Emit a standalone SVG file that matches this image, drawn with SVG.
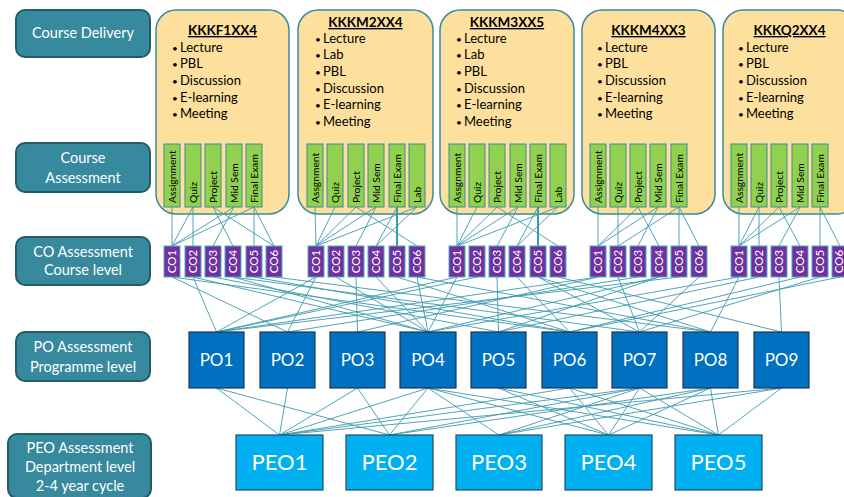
<svg xmlns="http://www.w3.org/2000/svg" width="844" height="497" viewBox="0 0 844 497">
<style>
text{font-family:Lato,"Open Sans","Liberation Sans",sans-serif}
.lbl rect{fill:#37899E;stroke:#235B69;stroke-width:2}
.lbl text{fill:#fff;font-size:14.5px;text-anchor:middle}
.course rect{fill:#FDE09D;stroke:#3A8A9E;stroke-width:1.5}
.title{font-size:13.5px;font-weight:bold;text-anchor:middle;text-decoration:underline;fill:#000}
.item{font-size:13px;fill:#000}
.bul{font-size:10px}
.bar rect{fill:#92D050;stroke:#3A8A9E;stroke-width:1}
.bar text{font-size:10.3px;fill:#000}
.co rect{fill:#7030A0;stroke:#4BACC6;stroke-width:1}
.co text{font-size:11.5px;fill:#fff;text-anchor:middle}
.po rect{fill:#0070C0;stroke:#1E3452;stroke-width:1.2}
.po text{font-size:17px;fill:#fff;text-anchor:middle}
.peo rect{fill:#00B0F0;stroke:#244A62;stroke-width:1.2}
.peo text{font-size:22px;fill:#fff;text-anchor:middle}
#connectors line{stroke:#3C9AAF;stroke-width:0.9}
#connectors line.thick{stroke-width:2}
</style>

<!-- left labels -->
<g id="lbl-delivery" class="lbl"><rect x="16" y="10" width="134" height="47" rx="9"/><text x="83" y="38">Course Delivery</text></g>
<g id="lbl-assessment" class="lbl"><rect x="16" y="143" width="134" height="49" rx="9"/><text x="83" y="163">Course</text><text x="83" y="183">Assessment</text></g>
<g id="lbl-co" class="lbl"><rect x="16" y="237" width="134" height="48" rx="9"/><text x="83" y="257">CO Assessment</text><text x="83" y="275">Course level</text></g>
<g id="lbl-po" class="lbl"><rect x="16" y="332" width="134" height="49" rx="9"/><text x="83" y="352">PO Assessment</text><text x="83" y="372">Programme level</text></g>
<g id="lbl-peo" class="lbl"><rect x="8" y="434" width="143" height="64" rx="9"/><text x="80" y="453">PEO Assessment</text><text x="80" y="472">Department level</text><text x="80" y="491">2-4 year cycle</text></g>

<!-- course boxes -->
<g id="course1" class="course"><rect x="156" y="10" width="133" height="204" rx="20"/>
<text class="title" x="222.5" y="35">KKKF1XX4</text>
<text class="item" x="172" y="51.5"><tspan class="bul">•</tspan><tspan x="180">Lecture</tspan></text>
<text class="item" x="172" y="68"><tspan class="bul">•</tspan><tspan x="180">PBL</tspan></text>
<text class="item" x="172" y="85"><tspan class="bul">•</tspan><tspan x="180">Discussion</tspan></text>
<text class="item" x="172" y="101.5"><tspan class="bul">•</tspan><tspan x="180">E-learning</tspan></text>
<text class="item" x="172" y="118"><tspan class="bul">•</tspan><tspan x="180">Meeting</tspan></text>
</g>
<g id="course2" class="course"><rect x="298" y="10" width="135" height="204" rx="20"/>
<text class="title" x="365.5" y="27">KKKM2XX4</text>
<text class="item" x="315" y="42.5"><tspan class="bul">•</tspan><tspan x="323">Lecture</tspan></text>
<text class="item" x="315" y="59"><tspan class="bul">•</tspan><tspan x="323">Lab</tspan></text>
<text class="item" x="315" y="76"><tspan class="bul">•</tspan><tspan x="323">PBL</tspan></text>
<text class="item" x="315" y="92.5"><tspan class="bul">•</tspan><tspan x="323">Discussion</tspan></text>
<text class="item" x="315" y="109"><tspan class="bul">•</tspan><tspan x="323">E-learning</tspan></text>
<text class="item" x="315" y="125.5"><tspan class="bul">•</tspan><tspan x="323">Meeting</tspan></text>
</g>
<g id="course3" class="course"><rect x="440" y="10" width="134" height="204" rx="20"/>
<text class="title" x="507" y="27">KKKM3XX5</text>
<text class="item" x="456" y="42.5"><tspan class="bul">•</tspan><tspan x="464">Lecture</tspan></text>
<text class="item" x="456" y="59"><tspan class="bul">•</tspan><tspan x="464">Lab</tspan></text>
<text class="item" x="456" y="76"><tspan class="bul">•</tspan><tspan x="464">PBL</tspan></text>
<text class="item" x="456" y="92.5"><tspan class="bul">•</tspan><tspan x="464">Discussion</tspan></text>
<text class="item" x="456" y="109"><tspan class="bul">•</tspan><tspan x="464">E-learning</tspan></text>
<text class="item" x="456" y="125.5"><tspan class="bul">•</tspan><tspan x="464">Meeting</tspan></text>
</g>
<g id="course4" class="course"><rect x="582" y="10" width="133" height="204" rx="20"/>
<text class="title" x="648.5" y="35">KKKM4XX3</text>
<text class="item" x="597" y="51.5"><tspan class="bul">•</tspan><tspan x="605">Lecture</tspan></text>
<text class="item" x="597" y="68"><tspan class="bul">•</tspan><tspan x="605">PBL</tspan></text>
<text class="item" x="597" y="85"><tspan class="bul">•</tspan><tspan x="605">Discussion</tspan></text>
<text class="item" x="597" y="101.5"><tspan class="bul">•</tspan><tspan x="605">E-learning</tspan></text>
<text class="item" x="597" y="118"><tspan class="bul">•</tspan><tspan x="605">Meeting</tspan></text>
</g>
<g id="course5" class="course"><rect x="723" y="10" width="134" height="204" rx="20"/>
<text class="title" x="789.5" y="35">KKKQ2XX4</text>
<text class="item" x="738" y="51.5"><tspan class="bul">•</tspan><tspan x="746">Lecture</tspan></text>
<text class="item" x="738" y="68"><tspan class="bul">•</tspan><tspan x="746">PBL</tspan></text>
<text class="item" x="738" y="85"><tspan class="bul">•</tspan><tspan x="746">Discussion</tspan></text>
<text class="item" x="738" y="101.5"><tspan class="bul">•</tspan><tspan x="746">E-learning</tspan></text>
<text class="item" x="738" y="118"><tspan class="bul">•</tspan><tspan x="746">Meeting</tspan></text>
</g>

<!-- connectors -->
<g id="connectors">
<line x1="172" y1="207" x2="172" y2="246"/>
<line x1="193" y1="207" x2="172" y2="246"/>
<line x1="193" y1="207" x2="193" y2="246"/>
<line x1="213" y1="207" x2="233" y2="246"/>
<line x1="213" y1="207" x2="274" y2="246"/>
<line x1="234" y1="207" x2="172" y2="246"/>
<line x1="234" y1="207" x2="213" y2="246"/>
<line x1="254" y1="207" x2="172" y2="246"/>
<line x1="254" y1="207" x2="254" y2="246"/>
<line x1="254" y1="207" x2="274" y2="246"/>
<line x1="315" y1="207" x2="316" y2="246"/>
<line x1="335" y1="207" x2="316" y2="246"/>
<line x1="356" y1="207" x2="316" y2="246"/>
<line x1="356" y1="207" x2="417" y2="246"/>
<line x1="376" y1="207" x2="316" y2="246"/>
<line x1="376" y1="207" x2="356" y2="246"/>
<line x1="397" y1="207" x2="397" y2="246" class="thick"/>
<line x1="397" y1="207" x2="376" y2="246"/>
<line x1="417" y1="207" x2="376" y2="246"/>
<line x1="417" y1="207" x2="316" y2="246"/>
<line x1="457" y1="207" x2="457" y2="246"/>
<line x1="477" y1="207" x2="457" y2="246"/>
<line x1="497" y1="207" x2="457" y2="246"/>
<line x1="497" y1="207" x2="558" y2="246"/>
<line x1="518" y1="207" x2="457" y2="246"/>
<line x1="518" y1="207" x2="497" y2="246"/>
<line x1="538" y1="207" x2="538" y2="246" class="thick"/>
<line x1="538" y1="207" x2="517" y2="246"/>
<line x1="558" y1="207" x2="517" y2="246"/>
<line x1="558" y1="207" x2="457" y2="246"/>
<line x1="598" y1="207" x2="598" y2="246"/>
<line x1="618" y1="207" x2="618" y2="246"/>
<line x1="638" y1="207" x2="659" y2="246"/>
<line x1="638" y1="207" x2="598" y2="246"/>
<line x1="658" y1="207" x2="598" y2="246"/>
<line x1="658" y1="207" x2="638" y2="246"/>
<line x1="679" y1="207" x2="618" y2="246"/>
<line x1="679" y1="207" x2="679" y2="246"/>
<line x1="679" y1="207" x2="699" y2="246"/>
<line x1="739" y1="207" x2="739" y2="246"/>
<line x1="759" y1="207" x2="739" y2="246"/>
<line x1="759" y1="207" x2="759" y2="246"/>
<line x1="779" y1="207" x2="739" y2="246"/>
<line x1="779" y1="207" x2="800" y2="246"/>
<line x1="800" y1="207" x2="739" y2="246"/>
<line x1="800" y1="207" x2="779" y2="246"/>
<line x1="820" y1="207" x2="820" y2="246"/>
<line x1="820" y1="207" x2="840" y2="246"/>

<line x1="172" y1="277" x2="287.5" y2="332"/>
<line x1="172" y1="277" x2="569.5" y2="332"/>
<line x1="193" y1="277" x2="216.5" y2="332"/>
<line x1="193" y1="277" x2="428" y2="332"/>
<line x1="213" y1="277" x2="498.5" y2="332"/>
<line x1="233" y1="277" x2="428" y2="332"/>
<line x1="233" y1="277" x2="639.5" y2="332"/>
<line x1="254" y1="277" x2="569.5" y2="332"/>
<line x1="274" y1="277" x2="710.5" y2="332"/>
<line x1="316" y1="277" x2="216.5" y2="332"/>
<line x1="316" y1="277" x2="287.5" y2="332"/>
<line x1="336" y1="277" x2="428" y2="332"/>
<line x1="356" y1="277" x2="357.5" y2="332"/>
<line x1="376" y1="277" x2="428" y2="332"/>
<line x1="397" y1="277" x2="569.5" y2="332"/>
<line x1="417" y1="277" x2="428" y2="332"/>
<line x1="417" y1="277" x2="710.5" y2="332"/>
<line x1="457" y1="277" x2="216.5" y2="332"/>
<line x1="457" y1="277" x2="428" y2="332"/>
<line x1="477" y1="277" x2="216.5" y2="332"/>
<line x1="497" y1="277" x2="498.5" y2="332"/>
<line x1="517" y1="277" x2="569.5" y2="332"/>
<line x1="538" y1="277" x2="639.5" y2="332"/>
<line x1="538" y1="277" x2="710.5" y2="332"/>
<line x1="558" y1="277" x2="781.5" y2="332"/>
<line x1="598" y1="277" x2="216.5" y2="332"/>
<line x1="598" y1="277" x2="357.5" y2="332"/>
<line x1="618" y1="277" x2="639.5" y2="332"/>
<line x1="638" y1="277" x2="287.5" y2="332"/>
<line x1="659" y1="277" x2="428" y2="332"/>
<line x1="659" y1="277" x2="498.5" y2="332"/>
<line x1="679" y1="277" x2="216.5" y2="332"/>
<line x1="699" y1="277" x2="639.5" y2="332"/>
<line x1="739" y1="277" x2="710.5" y2="332"/>
<line x1="739" y1="277" x2="428" y2="332"/>
<line x1="759" y1="277" x2="498.5" y2="332"/>
<line x1="779" y1="277" x2="781.5" y2="332"/>
<line x1="800" y1="277" x2="569.5" y2="332"/>
<line x1="820" y1="277" x2="639.5" y2="332"/>
<line x1="840" y1="277" x2="569.5" y2="332"/>

<line x1="216.5" y1="388" x2="279.5" y2="435"/>
<line x1="216.5" y1="388" x2="389.5" y2="435"/>
<line x1="287.5" y1="388" x2="279.5" y2="435"/>
<line x1="357.5" y1="388" x2="279.5" y2="435"/>
<line x1="357.5" y1="388" x2="389.5" y2="435"/>
<line x1="428" y1="388" x2="279.5" y2="435"/>
<line x1="428" y1="388" x2="389.5" y2="435"/>
<line x1="428" y1="388" x2="499" y2="435"/>
<line x1="428" y1="388" x2="608.5" y2="435"/>
<line x1="428" y1="388" x2="718.5" y2="435"/>
<line x1="498.5" y1="388" x2="608.5" y2="435"/>
<line x1="498.5" y1="388" x2="718.5" y2="435"/>
<line x1="569.5" y1="388" x2="279.5" y2="435"/>
<line x1="569.5" y1="388" x2="608.5" y2="435"/>
<line x1="569.5" y1="388" x2="718.5" y2="435"/>
<line x1="639.5" y1="388" x2="279.5" y2="435"/>
<line x1="639.5" y1="388" x2="389.5" y2="435"/>
<line x1="639.5" y1="388" x2="499" y2="435"/>
<line x1="639.5" y1="388" x2="608.5" y2="435"/>
<line x1="639.5" y1="388" x2="718.5" y2="435"/>
<line x1="710.5" y1="388" x2="389.5" y2="435"/>
<line x1="710.5" y1="388" x2="499" y2="435"/>
<line x1="710.5" y1="388" x2="608.5" y2="435"/>
<line x1="710.5" y1="388" x2="718.5" y2="435"/>
<line x1="781.5" y1="388" x2="279.5" y2="435"/>
<line x1="781.5" y1="388" x2="499" y2="435"/>
<line x1="781.5" y1="388" x2="718.5" y2="435"/>
</g>

<!-- assessment bars -->
<g id="c1-assignment" class="bar"><rect x="164" y="144" width="16" height="63"/><text transform="translate(175.5,203) rotate(-90)">Assignment</text></g>
<g id="c1-quiz" class="bar"><rect x="185" y="144" width="16" height="63"/><text transform="translate(196.5,203) rotate(-90)">Quiz</text></g>
<g id="c1-project" class="bar"><rect x="205" y="144" width="16" height="63"/><text transform="translate(216.5,203) rotate(-90)">Project</text></g>
<g id="c1-midsem" class="bar"><rect x="226" y="144" width="16" height="63"/><text transform="translate(237.5,203) rotate(-90)">Mid Sem</text></g>
<g id="c1-final" class="bar"><rect x="246" y="144" width="16" height="63"/><text transform="translate(257.5,203) rotate(-90)">Final Exam</text></g>

<g id="c2-assignment" class="bar"><rect x="307" y="144" width="16" height="63"/><text transform="translate(318.5,203) rotate(-90)">Assgnment</text></g>
<g id="c2-quiz" class="bar"><rect x="327" y="144" width="16" height="63"/><text transform="translate(338.5,203) rotate(-90)">Quiz</text></g>
<g id="c2-project" class="bar"><rect x="348" y="144" width="16" height="63"/><text transform="translate(359.5,203) rotate(-90)">Project</text></g>
<g id="c2-midsem" class="bar"><rect x="368" y="144" width="16" height="63"/><text transform="translate(379.5,203) rotate(-90)">Mid Sem</text></g>
<g id="c2-final" class="bar"><rect x="389" y="144" width="16" height="63"/><text transform="translate(400.5,203) rotate(-90)">Final Exam</text></g>
<g id="c2-lab" class="bar"><rect x="409" y="144" width="16" height="63"/><text transform="translate(420.5,203) rotate(-90)">Lab</text></g>

<g id="c3-assignment" class="bar"><rect x="449" y="144" width="16" height="63"/><text transform="translate(460.5,203) rotate(-90)">Assgnment</text></g>
<g id="c3-quiz" class="bar"><rect x="469" y="144" width="16" height="63"/><text transform="translate(480.5,203) rotate(-90)">Quiz</text></g>
<g id="c3-project" class="bar"><rect x="489" y="144" width="16" height="63"/><text transform="translate(500.5,203) rotate(-90)">Project</text></g>
<g id="c3-midsem" class="bar"><rect x="510" y="144" width="16" height="63"/><text transform="translate(521.5,203) rotate(-90)">Mid Sem</text></g>
<g id="c3-final" class="bar"><rect x="530" y="144" width="16" height="63"/><text transform="translate(541.5,203) rotate(-90)">Final Exam</text></g>
<g id="c3-lab" class="bar"><rect x="550" y="144" width="16" height="63"/><text transform="translate(561.5,203) rotate(-90)">Lab</text></g>

<g id="c4-assignment" class="bar"><rect x="590" y="144" width="16" height="63"/><text transform="translate(601.5,203) rotate(-90)">Assignment</text></g>
<g id="c4-quiz" class="bar"><rect x="610" y="144" width="16" height="63"/><text transform="translate(621.5,203) rotate(-90)">Quiz</text></g>
<g id="c4-project" class="bar"><rect x="630" y="144" width="16" height="63"/><text transform="translate(641.5,203) rotate(-90)">Project</text></g>
<g id="c4-midsem" class="bar"><rect x="650" y="144" width="16" height="63"/><text transform="translate(661.5,203) rotate(-90)">Mid Sem</text></g>
<g id="c4-final" class="bar"><rect x="671" y="144" width="16" height="63"/><text transform="translate(682.5,203) rotate(-90)">Final Exam</text></g>

<g id="c5-assignment" class="bar"><rect x="731" y="144" width="16" height="63"/><text transform="translate(742.5,203) rotate(-90)">Assgnment</text></g>
<g id="c5-quiz" class="bar"><rect x="751" y="144" width="16" height="63"/><text transform="translate(762.5,203) rotate(-90)">Quiz</text></g>
<g id="c5-project" class="bar"><rect x="771" y="144" width="16" height="63"/><text transform="translate(782.5,203) rotate(-90)">Project</text></g>
<g id="c5-midsem" class="bar"><rect x="792" y="144" width="16" height="63"/><text transform="translate(803.5,203) rotate(-90)">Mid Sem</text></g>
<g id="c5-final" class="bar"><rect x="812" y="144" width="16" height="63"/><text transform="translate(823.5,203) rotate(-90)">Final Exam</text></g>

<!-- CO boxes -->
<g id="g1-co1" class="co"><rect x="164" y="246" width="16" height="31"/><text transform="translate(176,261.5) rotate(-90)">CO1</text></g>
<g id="g1-co2" class="co"><rect x="185" y="246" width="16" height="31"/><text transform="translate(197,261.5) rotate(-90)">CO2</text></g>
<g id="g1-co3" class="co"><rect x="205" y="246" width="16" height="31"/><text transform="translate(217,261.5) rotate(-90)">CO3</text></g>
<g id="g1-co4" class="co"><rect x="225" y="246" width="16" height="31"/><text transform="translate(237,261.5) rotate(-90)">CO4</text></g>
<g id="g1-co5" class="co"><rect x="246" y="246" width="16" height="31"/><text transform="translate(258,261.5) rotate(-90)">CO5</text></g>
<g id="g1-co6" class="co"><rect x="266" y="246" width="16" height="31"/><text transform="translate(278,261.5) rotate(-90)">CO6</text></g>

<g id="g2-co1" class="co"><rect x="308" y="246" width="16" height="31"/><text transform="translate(320,261.5) rotate(-90)">CO1</text></g>
<g id="g2-co2" class="co"><rect x="328" y="246" width="16" height="31"/><text transform="translate(340,261.5) rotate(-90)">CO2</text></g>
<g id="g2-co3" class="co"><rect x="348" y="246" width="16" height="31"/><text transform="translate(360,261.5) rotate(-90)">CO3</text></g>
<g id="g2-co4" class="co"><rect x="368" y="246" width="16" height="31"/><text transform="translate(380,261.5) rotate(-90)">CO4</text></g>
<g id="g2-co5" class="co"><rect x="389" y="246" width="16" height="31"/><text transform="translate(401,261.5) rotate(-90)">CO5</text></g>
<g id="g2-co6" class="co"><rect x="409" y="246" width="16" height="31"/><text transform="translate(421,261.5) rotate(-90)">CO6</text></g>

<g id="g3-co1" class="co"><rect x="449" y="246" width="16" height="31"/><text transform="translate(461,261.5) rotate(-90)">CO1</text></g>
<g id="g3-co2" class="co"><rect x="469" y="246" width="16" height="31"/><text transform="translate(481,261.5) rotate(-90)">CO2</text></g>
<g id="g3-co3" class="co"><rect x="489" y="246" width="16" height="31"/><text transform="translate(501,261.5) rotate(-90)">CO3</text></g>
<g id="g3-co4" class="co"><rect x="509" y="246" width="16" height="31"/><text transform="translate(521,261.5) rotate(-90)">CO4</text></g>
<g id="g3-co5" class="co"><rect x="530" y="246" width="16" height="31"/><text transform="translate(542,261.5) rotate(-90)">CO5</text></g>
<g id="g3-co6" class="co"><rect x="550" y="246" width="16" height="31"/><text transform="translate(562,261.5) rotate(-90)">CO6</text></g>

<g id="g4-co1" class="co"><rect x="590" y="246" width="16" height="31"/><text transform="translate(602,261.5) rotate(-90)">CO1</text></g>
<g id="g4-co2" class="co"><rect x="610" y="246" width="16" height="31"/><text transform="translate(622,261.5) rotate(-90)">CO2</text></g>
<g id="g4-co3" class="co"><rect x="630" y="246" width="16" height="31"/><text transform="translate(642,261.5) rotate(-90)">CO3</text></g>
<g id="g4-co4" class="co"><rect x="651" y="246" width="16" height="31"/><text transform="translate(663,261.5) rotate(-90)">CO4</text></g>
<g id="g4-co5" class="co"><rect x="671" y="246" width="16" height="31"/><text transform="translate(683,261.5) rotate(-90)">CO5</text></g>
<g id="g4-co6" class="co"><rect x="691" y="246" width="16" height="31"/><text transform="translate(703,261.5) rotate(-90)">CO6</text></g>

<g id="g5-co1" class="co"><rect x="731" y="246" width="16" height="31"/><text transform="translate(743,261.5) rotate(-90)">CO1</text></g>
<g id="g5-co2" class="co"><rect x="751" y="246" width="16" height="31"/><text transform="translate(763,261.5) rotate(-90)">CO2</text></g>
<g id="g5-co3" class="co"><rect x="771" y="246" width="16" height="31"/><text transform="translate(783,261.5) rotate(-90)">CO3</text></g>
<g id="g5-co4" class="co"><rect x="792" y="246" width="16" height="31"/><text transform="translate(804,261.5) rotate(-90)">CO4</text></g>
<g id="g5-co5" class="co"><rect x="812" y="246" width="16" height="31"/><text transform="translate(824,261.5) rotate(-90)">CO5</text></g>
<g id="g5-co6" class="co"><rect x="832" y="246" width="16" height="31"/><text transform="translate(842.5,261.5) rotate(-90)">CO6</text></g>

<!-- PO boxes -->
<g id="po1" class="po"><rect x="189" y="332" width="55" height="56"/><text x="216.5" y="366">PO1</text></g>
<g id="po2" class="po"><rect x="260" y="332" width="55" height="56"/><text x="287.5" y="366">PO2</text></g>
<g id="po3" class="po"><rect x="330" y="332" width="55" height="56"/><text x="357.5" y="366">PO3</text></g>
<g id="po4" class="po"><rect x="400" y="332" width="56" height="56"/><text x="428" y="366">PO4</text></g>
<g id="po5" class="po"><rect x="471" y="332" width="55" height="56"/><text x="498.5" y="366">PO5</text></g>
<g id="po6" class="po"><rect x="542" y="332" width="55" height="56"/><text x="569.5" y="366">PO6</text></g>
<g id="po7" class="po"><rect x="612" y="332" width="55" height="56"/><text x="639.5" y="366">PO7</text></g>
<g id="po8" class="po"><rect x="683" y="332" width="55" height="56"/><text x="710.5" y="366">PO8</text></g>
<g id="po9" class="po"><rect x="754" y="332" width="55" height="56"/><text x="781.5" y="366">PO9</text></g>

<!-- PEO boxes -->
<g id="peo1" class="peo"><rect x="236" y="435" width="87" height="55"/><text x="279.5" y="470">PEO1</text></g>
<g id="peo2" class="peo"><rect x="346" y="435" width="87" height="55"/><text x="389.5" y="470">PEO2</text></g>
<g id="peo3" class="peo"><rect x="456" y="435" width="86" height="55"/><text x="499" y="470">PEO3</text></g>
<g id="peo4" class="peo"><rect x="565" y="435" width="87" height="55"/><text x="608.5" y="470">PEO4</text></g>
<g id="peo5" class="peo"><rect x="675" y="435" width="87" height="55"/><text x="718.5" y="470">PEO5</text></g>
</svg>
